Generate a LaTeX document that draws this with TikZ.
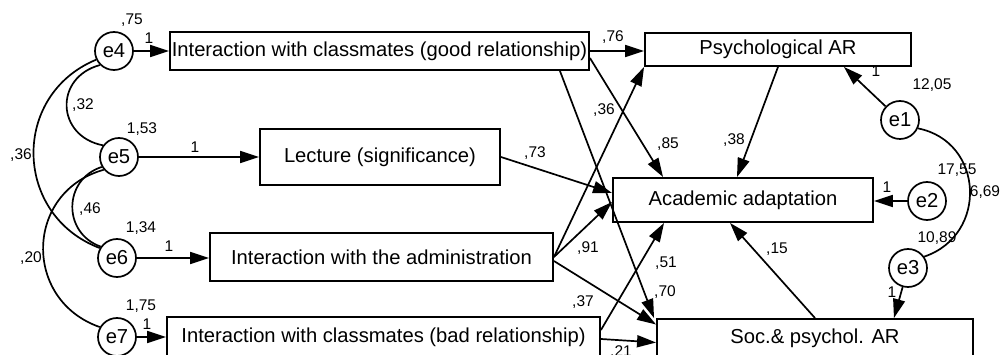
\documentclass[tikz,border=0pt]{standalone}
\usepackage{fontspec}
\setmainfont{Liberation Sans}
\usetikzlibrary{arrows.meta,calc}
\begin{document}
\begin{tikzpicture}[x=1pt,y=-1pt,
  box/.style={draw,line width=1.9pt,inner sep=0pt,font=\fontsize{20.2}{22}\selectfont},
  err/.style={draw,circle,line width=1.7pt,minimum size=38pt,inner sep=0pt,font=\fontsize{20.2}{22}\selectfont},
  lab/.style={inner sep=0pt,font=\fontsize{15.5}{17}\selectfont},
  arr/.style={line width=1.7pt,-{Triangle[length=19pt,width=12pt]}},
  cov/.style={line width=1.7pt}]
\useasboundingbox (0,0) rectangle (1002,355);
\fill[white] (0,0) rectangle (1002,355);
% observed boxes
\node[box,minimum width=419pt,minimum height=38pt] (b1) at (379.5,51) {Interaction with classmates (good relationship)};
\node[box,minimum width=240pt,minimum height=56pt] (lec) at (380,157) {Lecture (significance)};
\node[box,minimum width=343pt,minimum height=48pt] (adm) at (381.5,257) {Interaction with the administration};
\node[box,minimum width=433pt,minimum height=40pt] (bad) at (383.5,337) {Interaction with classmates (bad relationship)};
\node[box,minimum width=266pt,minimum height=33pt] (psy) at (778,49.5) {Psychological AR};
\node[box,minimum width=260pt,minimum height=44pt] (aca) at (743,200) {Academic adaptation};
\node[box,minimum width=316pt,minimum height=39pt] (soc) at (815,338.5) {Soc.\& psychol. AR};
% error circles
\node[err] (e4) at (114,51) {e4};
\node[err] (e5) at (119,157) {e5};
\node[err] (e6) at (117,258) {e6};
\node[err] (e7) at (117,337) {e7};
\node[err] (e1) at (900,120) {e1};
\node[err] (e2) at (927,201) {e2};
\node[err] (e3) at (908,268) {e3};
% error arrows
\draw[arr] (e4) -- (b1.west);
\draw[arr] (e5) -- (lec.west);
\draw[arr] (e6) -- (e6 -| adm.west);
\draw[arr] (e7) -- (bad.west);
\draw[arr] (e1) -- ([xshift=-68pt]psy.south east);
\draw[arr] (e2) -- (e2 -| aca.east);
\draw[arr] (e3) -- ([xshift=-80pt]soc.north east);
% paths
\draw[arr] (b1.east) -- (b1.east -| psy.west);
\draw[arr] ([yshift=-7pt]b1.east) -- ([xshift=51pt]aca.north west);
\draw[arr] ([xshift=-30pt]b1.south east) -- ([xshift=-2pt]soc.north west);
\draw[arr] (lec.east) -- ([yshift=7pt]aca.west);
\draw[arr] (adm.east) -- (psy.south west);
\draw[arr] (adm.east) -- ([yshift=-2pt]aca.west);
\draw[arr] ([yshift=-4pt]adm.east) -- ([yshift=14pt]soc.west);
\draw[arr] ([yshift=7pt]bad.east) -- ([xshift=52pt]aca.south west);
\draw[arr] ([yshift=-2pt]bad.east) -- ([yshift=-4pt]soc.west);
\draw[arr] (psy.south) -- ([xshift=-6pt]aca.north);
\draw[arr] (soc.north) -- ([xshift=-13pt]aca.south);
% covariances
\draw[cov] (e4.225) .. controls +(-46.1,12.4) and +(-46.8,-9.1) .. (e5.144);
\draw[cov] (e4.206) .. controls +(-85.4,35.4) and +(-86.5,-32.7) .. (e6.150);
\draw[cov] (e5.210) .. controls +(-38.8,12.5) and +(-38.4,-13.6) .. (e6.145);
\draw[cov] (e5.220) .. controls +(-79,22) and +(-77.5,-27) .. (e7.150);
\draw[cov] (e1.-25) .. controls +(66.2,13.2) and +(64,-21.6) .. (e3.35);
% labels
\node[lab] (l1) at (132,20) {,75};
\node[lab] (l2) at (149,38) {1};
\node[lab] (l3) at (83,105) {,32};
\node[lab] (l4) at (142,129) {1,53};
\node[lab] (l5) at (195,147) {1};
\node[lab] (l6) at (21,155) {,36};
\node[lab] (l7) at (90,209) {,46};
\node[lab] (l8) at (141,228) {1,34};
\node[lab] (l9) at (169,246) {1};
\node[lab] (l10) at (31,258) {,20};
\node[lab] (l11) at (141,306) {1,75};
\node[lab] (l12) at (147,324) {1};
\node[lab] (l13) at (613,37) {,76};
\node[lab] (l14) at (668,144) {,85};
\node[lab] (l15) at (604,110) {,36};
\node[lab] (l16) at (535,153) {,73};
\node[lab] (l17) at (588,248) {,91};
\node[lab] (l18) at (583,302) {,37};
\node[lab] (l19) at (666,263) {,51};
\node[lab] (l20) at (665,292) {,70};
\node[lab] (l21) at (621,352) {,21};
\node[lab] (l22) at (734,140) {,38};
\node[lab] (l23) at (777,249) {,15};
\node[lab] (l24) at (876,71) {1};
\node[lab] (l25) at (932,85) {12,05};
\node[lab] (l26) at (887,187) {1};
\node[lab] (l27) at (957,170) {17,55};
\node[lab] (l28) at (985,192) {6,69};
\node[lab] (l29) at (937,238) {10,89};
\node[lab] (l30) at (892,292) {1};
\end{tikzpicture}
\end{document}
